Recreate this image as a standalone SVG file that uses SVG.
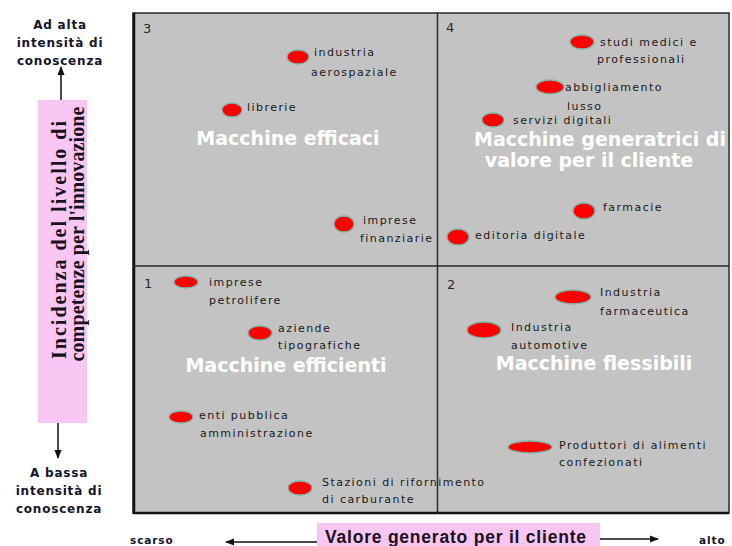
<svg xmlns="http://www.w3.org/2000/svg" width="732" height="546" viewBox="0 0 732 546">
<defs>
<style>
.lbl{font-family:"DejaVu Sans",sans-serif;font-size:11px;letter-spacing:1.45px;fill:#1a1a1a}
.ttl{font-family:"DejaVu Sans",sans-serif;font-size:19px;font-weight:bold;fill:#ffffff;text-anchor:middle}
.num{font-family:"DejaVu Sans",sans-serif;font-size:13px;fill:#2a2a2a}
.ax{font-family:"DejaVu Sans",sans-serif;font-size:12px;font-weight:bold;letter-spacing:0.8px;fill:#14142a;text-anchor:middle}
.axs{font-family:"DejaVu Sans",sans-serif;font-size:10.5px;font-weight:bold;letter-spacing:0.9px;fill:#14142a}
.dot{fill:#ff0000;stroke:#7fb3a4;stroke-width:1.3}
.pink{fill:#f7c6f3}
.vt{font-family:"Liberation Serif","Times New Roman",serif;font-size:20px;font-weight:bold;fill:#1a1020;text-anchor:middle}
.ht{font-family:"Liberation Sans",Arial,sans-serif;font-size:17.5px;font-weight:bold;fill:#1a1020}
.conn{stroke:#111;stroke-width:1.5;fill:none}
</style>
<marker id="ah" viewBox="0 0 10 10" refX="9" refY="5" markerWidth="6" markerHeight="6" orient="auto">
<path d="M0,1 L10,5 L0,9 z" fill="#111"/>
</marker>
</defs>

<g id="frame">
<rect x="133" y="13" width="596" height="500" fill="#c3c3c3" stroke="#2a2a2a" stroke-width="1.5"/>
<line x1="134" y1="13" x2="134" y2="514" stroke="#111" stroke-width="2.5"/>
<line x1="133" y1="513" x2="729" y2="513" stroke="#111" stroke-width="2.5"/>
<line x1="437.5" y1="13" x2="437.5" y2="513" stroke="#2a2a2a" stroke-width="1.5"/>
<line x1="133" y1="266" x2="729" y2="266" stroke="#2a2a2a" stroke-width="1.5"/>
</g>

<g id="q3">
<text class="num" x="143" y="33">3</text>
<text class="ttl" x="288" y="145">Macchine efficaci</text>
</g>
<g id="q4">
<text class="num" x="446" y="32">4</text>
<text class="ttl" x="600" y="146">Macchine generatrici di</text>
<text class="ttl" x="589" y="167">valore per il cliente</text>
</g>
<g id="q1">
<text class="num" x="144" y="288">1</text>
<text class="ttl" x="286" y="372">Macchine efficienti</text>
</g>
<g id="q2">
<text class="num" x="447" y="289">2</text>
<text class="ttl" x="594" y="370">Macchine flessibili</text>
</g>

<g id="n-aerospaziale"><ellipse class="dot" cx="298" cy="57" rx="11" ry="7"/><text class="lbl" x="314" y="56">industria</text><text class="lbl" x="311" y="76">aerospaziale</text></g>
<g id="n-librerie"><ellipse class="dot" cx="232" cy="110" rx="10" ry="7"/><text class="lbl" x="247" y="111">librerie</text></g>
<g id="n-finanziarie"><ellipse class="dot" cx="344" cy="224" rx="10" ry="8"/><text class="lbl" x="363" y="224">imprese</text><text class="lbl" x="360" y="242">finanziarie</text></g>

<g id="n-studi"><ellipse class="dot" cx="582" cy="42" rx="12" ry="7"/><text class="lbl" x="600" y="46">studi medici e</text><text class="lbl" x="597" y="63">professionali</text></g>
<g id="n-abbigliamento"><ellipse class="dot" cx="550" cy="87" rx="14" ry="7"/><text class="lbl" x="565" y="91">abbigliamento</text><text class="lbl" x="567" y="110">lusso</text></g>
<g id="n-servizi"><ellipse class="dot" cx="493" cy="120" rx="11" ry="7"/><text class="lbl" x="513" y="124">servizi digitali</text></g>
<g id="n-farmacie"><ellipse class="dot" cx="584" cy="211" rx="11" ry="8"/><text class="lbl" x="603" y="211">farmacie</text></g>
<g id="n-editoria"><ellipse class="dot" cx="458" cy="237" rx="11" ry="8"/><text class="lbl" x="475" y="239">editoria digitale</text></g>

<g id="n-petrolifere"><ellipse class="dot" cx="186" cy="282" rx="12" ry="6"/><text class="lbl" x="209" y="286">imprese</text><text class="lbl" x="209" y="304">petrolifere</text></g>
<g id="n-tipografiche"><ellipse class="dot" cx="260" cy="333" rx="12" ry="7"/><text class="lbl" x="278" y="332">aziende</text><text class="lbl" x="278" y="349">tipografiche</text></g>
<g id="n-enti"><ellipse class="dot" cx="181" cy="417" rx="12" ry="6"/><text class="lbl" x="199" y="419">enti pubblica</text><text class="lbl" x="200" y="437">amministrazione</text></g>
<g id="n-stazioni"><ellipse class="dot" cx="300" cy="488" rx="12" ry="7"/><text class="lbl" x="322" y="486">Stazioni di rifornimento</text><text class="lbl" x="322" y="503">di carburante</text></g>

<g id="n-farmaceutica"><ellipse class="dot" cx="573" cy="297" rx="18" ry="7"/><text class="lbl" x="600" y="296">Industria</text><text class="lbl" x="600" y="315">farmaceutica</text></g>
<g id="n-automotive"><ellipse class="dot" cx="484" cy="330" rx="17" ry="8"/><text class="lbl" x="511" y="331">Industria</text><text class="lbl" x="511" y="349">automotive</text></g>
<g id="n-produttori"><ellipse class="dot" cx="530" cy="447" rx="22" ry="6"/><text class="lbl" x="559" y="449">Produttori di alimenti</text><text class="lbl" x="559" y="466">confezionati</text></g>

<g id="y-axis">
<text class="ax" x="60" y="29">Ad alta</text>
<text class="ax" x="60" y="47">intensità di</text>
<text class="ax" x="60" y="65">conoscenza</text>
<rect class="pink" x="38" y="100" width="49" height="323"/>
<text class="vt" transform="translate(66,240) rotate(-90)" textLength="238" lengthAdjust="spacing">Incidenza  del livello di</text>
<text class="vt" transform="translate(84,234) rotate(-90)" textLength="255" lengthAdjust="spacing">competenze  per l'innovazione</text>
<text class="ax" x="59" y="477">A bassa</text>
<text class="ax" x="59" y="495">intensità di</text>
<text class="ax" x="59" y="513">conoscenza</text>
</g>

<g id="x-axis">
<text class="axs" x="130" y="544">scarso</text>
<rect class="pink" x="317" y="523" width="283" height="23"/>
<text class="ht" x="325" y="543" textLength="261" lengthAdjust="spacing">Valore generato  per  il cliente</text>
<text class="axs" x="699" y="544">alto</text>
</g>

<g id="connectors">
<line class="conn" x1="317" y1="542" x2="226" y2="542" marker-end="url(#ah)"/>
<line class="conn" x1="600" y1="539" x2="658" y2="539" marker-end="url(#ah)"/>
<line class="conn" x1="61" y1="100" x2="61" y2="67" marker-end="url(#ah)"/>
<line class="conn" x1="58" y1="423" x2="58" y2="458" marker-end="url(#ah)"/>
</g>
</svg>
